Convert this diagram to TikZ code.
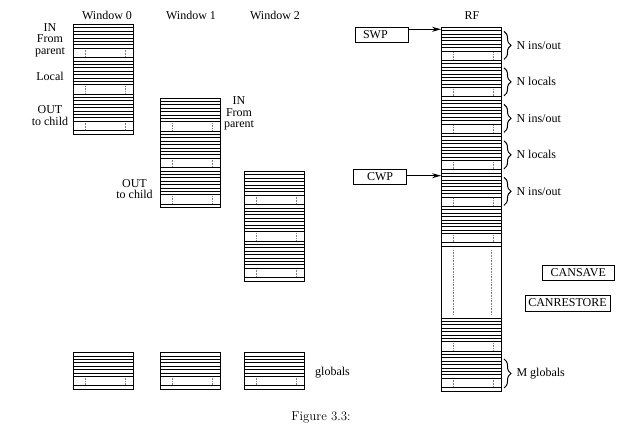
\documentclass[tikz,border=0pt]{standalone}
\usepackage{fontspec}
\usepackage{tikz}
\usetikzlibrary{arrows.meta,decorations.pathreplacing}
\newfontfamily\figfont{Liberation Serif}

\tikzset{
  reg/.style={line width=0.9pt},
  gapdots/.style={gray, line width=0.6pt, dash pattern=on 0.8pt off 0.8pt},
  lbl/.style={font=\figfont\fontsize{12}{11.7}\selectfont, inner sep=0pt, align=center},
  ptrbox/.style={draw, line width=0.9pt, font=\figfont\fontsize{12}{13}\selectfont,
    minimum height=14.6pt, inner sep=0pt},
  ptr/.style={-{Stealth[length=9pt,width=5pt,inset=3pt]}, line width=0.9pt},
  rfbrace/.style={decorate, decoration={brace, amplitude=7pt}, line width=1pt},
  brlbl/.style={lbl, midway, anchor=west, xshift=12pt},
}

% one group of registers: x, top y
\newcommand{\regblock}[2]{%
  \draw[reg] (#1,#2) rectangle ++(60,36.5);
  \foreach \k in {1,...,7}{\draw[reg] (#1,#2+\k*3.4) -- ++(60,0);}
  \draw[reg] (#1,#2+33.1) -- ++(60,0);
  \draw[gapdots] (#1+12,#2+25.2) -- ++(0,6.8);
  \draw[gapdots] (#1+52,#2+25.2) -- ++(0,6.8);
}
% several groups stacked: x, top y, count
\newcommand{\regstack}[3]{%
  \foreach \blk in {1,...,#3}{%
    \pgfmathsetmacro\blky{#2+(\blk-1)*36.5}%
    \regblock{#1}{\blky}}%
}

\begin{document}
\begin{tikzpicture}[x=1pt,y=-1pt]
        \useasboundingbox (0,0) rectangle (638,430);
        % windows
        \node[lbl, anchor=base] (t0) at (107,19.5) {Window 0};
        \node[lbl, anchor=base] (t1) at (191,19.5) {Window 1};
        \node[lbl, anchor=base] (t2) at (275,19.5) {Window 2};
        \regstack{73}{24.5}{3}
        \regstack{160}{98}{3}
        \regstack{244}{171.5}{3}
        \node[lbl, anchor=base] (w0in) at (50,54.5) {IN\\From\\parent};
        \node[lbl, anchor=base] (w0loc) at (50,80.7) {Local};
        \node[lbl, anchor=base] (w0out) at (50,125.5) {OUT\\to child};
        \node[lbl, anchor=base] (w1in) at (239,128) {IN\\From\\parent};
        \node[lbl, anchor=base] (w1out) at (134.5,199) {OUT\\to child};
        % globals
        \foreach \gx in {73,160,244}{\regblock{\gx}{352.7}}
        \node[lbl, anchor=base west] (glob) at (315,376) {globals};
        % register file
        \node[lbl, anchor=base] (trf) at (472,19.5) {RF};
        \regstack{441}{27.3}{6}
        \draw[reg] (441,246.3) rectangle (501,318);
        \draw[gapdots] (453,250) -- (453,315);
        \draw[gapdots] (491,250) -- (491,315);
        \regblock{441}{318}
        \regblock{441}{354.5}
        \draw[rfbrace] (504,31.3) -- (504,59.3) node[brlbl] (b1) {N ins/out};
        \draw[rfbrace] (504,67.8) -- (504,95.8) node[brlbl] (b2) {N locals};
        \draw[rfbrace] (504,104.3) -- (504,132.3) node[brlbl] (b3) {N ins/out};
        \draw[rfbrace] (504,140.8) -- (504,168.8) node[brlbl] (b4) {N locals};
        \draw[rfbrace] (504,177.3) -- (504,205.3) node[brlbl] (b5) {N ins/out};
        \draw[rfbrace] (504,359) -- (504,388) node[brlbl] (bm) {M globals};
        % pointers
        \node[ptrbox, minimum width=53pt, text width=37pt, inner xsep=8pt, align=left] (swp) at (381.5,35) {SWP};
        \node[ptrbox, minimum width=53.4pt] (cwp) at (380,176.7) {CWP};
        \coordinate (swpin) at (441,29.3);
        \coordinate (cwpin) at (441,175.7);
        \draw[ptr] (swp.east |- swpin) -- (swpin);
        \draw[ptr] (cwp.east |- cwpin) -- (cwpin);
        \node[ptrbox, minimum width=72pt, minimum height=15.7pt] (cansave) at (578.3,272.9) {CANSAVE};
        \node[ptrbox, minimum width=85pt, minimum height=16pt] (canrestore) at (567.5,303) {CANRESTORE};
        \node[font=\fontsize{12.9}{15}\selectfont, anchor=base] (cap) at (321,420.7) {Figure 3.3:};
\end{tikzpicture}
\end{document}
